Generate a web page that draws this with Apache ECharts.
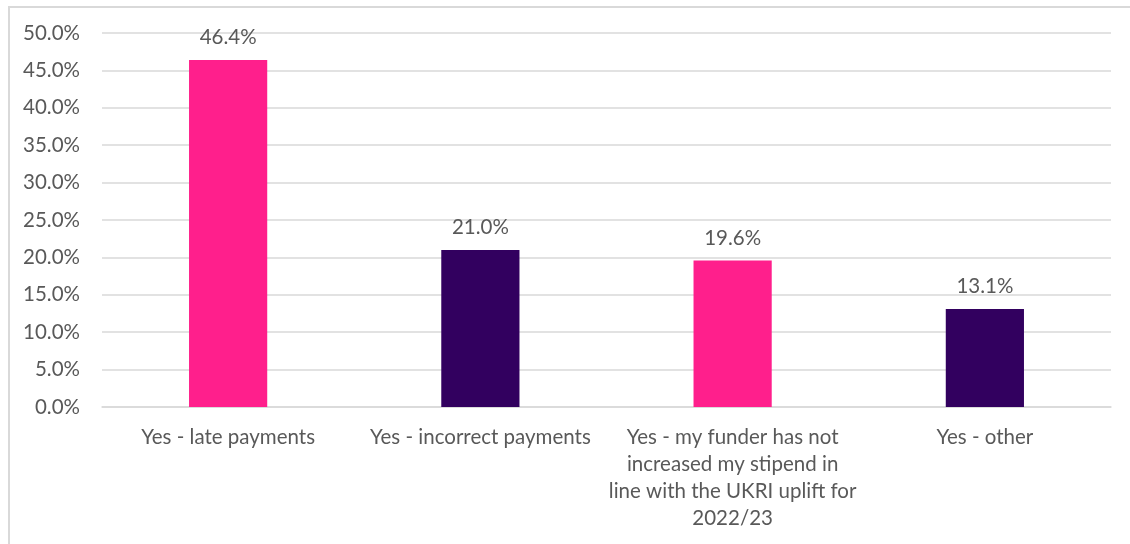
<!DOCTYPE html>
<html>
<head>
<meta charset="utf-8">
<script src="https://cdn.jsdelivr.net/npm/echarts@6/dist/echarts.min.js"></script>
<style>
html,body{margin:0;padding:0;background:#fff;}
#frame{position:absolute;left:8px;top:6px;width:1130px;height:560px;border-left:2px solid #d9d9d9;border-top:2px solid #d9d9d9;box-sizing:border-box;}
#chart{position:absolute;left:0;top:0;width:1130px;height:544px;}
</style>
</head>
<body>
<div id="frame"></div>
<div id="chart"></div>
<script>
// Reported payment issues, share of respondents (%)
const categories = [
  'Yes - late payments',
  'Yes - incorrect payments',
  'Yes - my funder has not\nincreased my stipend in\nline with the UKRI uplift for\n2022/23',
  'Yes - other'
];
const values = [46.4, 21.0, 19.6, 13.1];
const barColors = ['#ff1f8c', '#32005f', '#ff1f8c', '#32005f'];

const FONT = 'Lato';
const TEXT = '#595959';
const SIZE = 20.5;

const chart = echarts.init(document.getElementById('chart'), null, {renderer: 'canvas'});
chart.setOption({
  animation: false,
  grid: {left: 102, right: 19, top: 33, bottom: 137, containLabel: false},
  xAxis: {
    type: 'category',
    data: categories,
    axisLine: {show: true, lineStyle: {color: '#d9d9d9', width: 1.5}},
    axisTick: {show: false},
    axisLabel: {color: TEXT, fontFamily: FONT, fontSize: SIZE, lineHeight: 27, margin: 17, interval: 0}
  },
  yAxis: {
    type: 'value',
    min: 0, max: 50, interval: 5,
    axisLine: {show: false},
    axisTick: {show: false},
    splitLine: {lineStyle: {color: '#d9d9d9', width: 1.5}},
    axisLabel: {color: TEXT, fontFamily: FONT, fontSize: SIZE, margin: 22,
      formatter: v => v.toFixed(1) + '%'}
  },
  series: [{
    type: 'bar',
    barWidth: '31%',
    data: values.map((v, i) => ({value: v, itemStyle: {color: barColors[i]}})),
    label: {show: true, position: 'top', distance: 12, color: TEXT, fontFamily: FONT, fontSize: SIZE,
      formatter: p => p.value.toFixed(1) + '%'}
  }]
});
</script>
</body>
</html>
